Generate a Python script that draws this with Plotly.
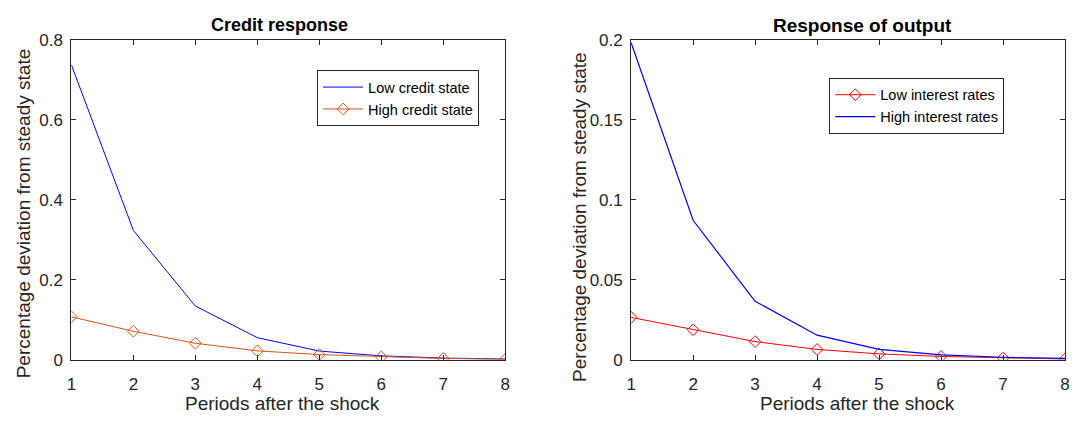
import plotly.graph_objects as go

# Periods after the shock
periods = [1, 2, 3, 4, 5, 6, 7, 8]

# Credit response (percentage deviation from steady state)
low_credit = [0.737, 0.323, 0.134, 0.055, 0.0215, 0.0095, 0.004, 0.0015]
high_credit = [0.107, 0.071, 0.041, 0.022, 0.0127, 0.007, 0.003, 0.001]

# Response of output (percentage deviation from steady state)
low_rates = [0.0264, 0.0187, 0.0113, 0.0064, 0.0036, 0.002, 0.001, 0.0004]
high_rates = [0.198, 0.0871, 0.0365, 0.0153, 0.0064, 0.003, 0.0015, 0.0008]

W, H = 1075, 427
INK = "#262626"
FONT = "Liberation Sans, Arial, sans-serif"


def px_x(p):
    return p / W


def px_y(p):
    return 1 - p / H


fig = go.Figure()

marker_style = dict(symbol="diamond-open", size=9, line=dict(width=1))

fig.add_trace(go.Scatter(
    x=periods, y=low_credit, name="Low credit state", mode="lines",
    line=dict(color="#0000FF", width=1), xaxis="x", yaxis="y", legend="legend"))
fig.add_trace(go.Scatter(
    x=periods, y=high_credit, name="High credit state", mode="lines+markers",
    line=dict(color="#D95319", width=1),
    marker=dict(color="#D95319", **marker_style),
    xaxis="x", yaxis="y", legend="legend"))

fig.add_trace(go.Scatter(
    x=periods, y=low_rates, name="Low interest rates", mode="lines+markers",
    line=dict(color="#FF0000", width=1),
    marker=dict(color="#FF0000", **marker_style),
    xaxis="x2", yaxis="y2", legend="legend2"))
fig.add_trace(go.Scatter(
    x=periods, y=high_rates, name="High interest rates", mode="lines",
    line=dict(color="#0000FF", width=1.2), xaxis="x2", yaxis="y2", legend="legend2"))

ax_common = dict(
    showline=True, linecolor=INK, linewidth=1, mirror="allticks",
    ticks="inside", ticklen=5, tickcolor=INK, showgrid=False, zeroline=False,
    tickfont=dict(family=FONT, size=17, color=INK),
)
x_common = dict(range=[1, 8], tickvals=periods, ticklabelstandoff=9, **ax_common)
y_common = dict(ticklabelstandoff=4, **ax_common)

y_top, y_bot = 32, 367
fig.update_layout(
    width=W, height=H,
    margin=dict(l=0, r=0, t=0, b=0),
    paper_bgcolor="white", plot_bgcolor="white",
    showlegend=True,
    xaxis=dict(domain=[px_x(67), px_x(505)], anchor="y", **x_common),
    yaxis=dict(domain=[px_y(y_bot), px_y(y_top)], range=[0, 0.8],
               tickvals=[0, 0.2, 0.4, 0.6, 0.8], ticktext=["0", "0.2", "0.4", "0.6", "0.8"],
               anchor="x", **y_common),
    xaxis2=dict(domain=[px_x(632), px_x(1070)], anchor="y2", **x_common),
    yaxis2=dict(domain=[px_y(y_bot), px_y(y_top)], range=[0, 0.2],
                tickvals=[0, 0.05, 0.1, 0.15, 0.2],
                ticktext=["0", "0.05", "0.1", "0.15", "0.2"],
                anchor="x2", **y_common),
    legend=dict(x=px_x(315), y=px_y(64), xanchor="left", yanchor="top",
                bgcolor="white", bordercolor=INK, borderwidth=1,
                font=dict(family=FONT, size=14.5, color="black"),
                itemwidth=40, tracegroupgap=0),
    legend2=dict(x=px_x(832), y=px_y(72), xanchor="left", yanchor="top",
                 bgcolor="white", bordercolor=INK, borderwidth=1,
                 font=dict(family=FONT, size=14.5, color="black"),
                 itemwidth=40, tracegroupgap=0),
)

ann_font = dict(family=FONT, size=19, color=INK)
annotations = [
    dict(text="<b>Credit response</b>", x=px_x(277), y=px_y(17),
         font=dict(family=FONT, size=18, color="black")),
    dict(text="<b>Response of output</b>", x=px_x(866), y=px_y(17),
         font=dict(family=FONT, size=19, color="black")),
    dict(text="Periods after the shock", x=px_x(280), y=px_y(426),
         yanchor="bottom", font=ann_font),
    dict(text="Periods after the shock", x=px_x(860), y=px_y(426),
         yanchor="bottom", font=ann_font),
    dict(text="Percentage deviation from steady state", x=px_x(19), y=px_y(214),
         textangle=-90, font=ann_font),
    dict(text="Percentage deviation from steady state", x=px_x(580), y=px_y(218),
         textangle=-90, font=ann_font),
]
for a in annotations:
    a.setdefault("yanchor", "middle")
    a.update(xref="paper", yref="paper", showarrow=False, xanchor="center")
fig.update_layout(annotations=annotations)

fig.write_html("out.html")
